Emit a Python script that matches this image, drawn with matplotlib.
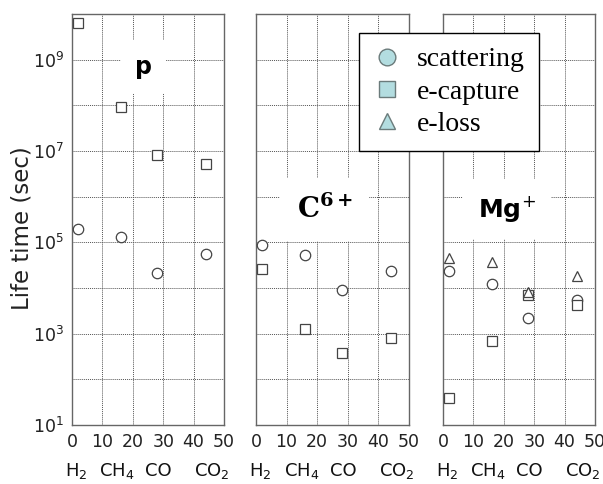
"""Life time of p, C6+ and Mg+ ions in H2, CH4, CO and CO2 gas."""

import matplotlib
matplotlib.use("Agg")
import matplotlib.pyplot as plt
from matplotlib.lines import Line2D
from matplotlib.transforms import blended_transform_factory

# gas mass number (x position of each point) and gas names
gas_mass = [2, 16, 28, 44]
gas_names = ["H$_2$", "CH$_4$", "CO", "CO$_2$"]
gas_label_x = [1.5, 14.8, 28.5, 46.0]

# life times (sec)
p_scatter = [2.0e5, 1.3e5, 2.1e4, 5.6e4]
p_capture = [6.2e9, 9.0e7, 8.3e6, 5.3e6]
c_scatter = [8.9e4, 5.4e4, 9.1e3, 2.4e4]
c_capture = [2.6e4, 1.26e3, 3.8e2, 8.1e2]
mg_scatter = [2.4e4, 1.2e4, 2.2e3, 5.5e3]
mg_capture = [39, 690, 7.1e3, 4.3e3]
mg_loss = [4.6e4, 3.7e4, 8.3e3, 1.8e4]

x_ticks = [0, 10, 20, 30, 40, 50]
y_exponents = list(range(1, 11))
legend_labels = ["scattering", "e-capture", "e-loss"]

W, H = 603, 484
fig = plt.figure(figsize=(W / 100, H / 100), dpi=100)

boxes = [(72, 224), (256, 409), (443, 595)]
top, bottom = 14, 425
axes = []
for x0, x1 in boxes:
    ax = fig.add_axes([x0 / W, 1 - bottom / H, (x1 - x0) / W, (bottom - top) / H])
    axes.append(ax)

panels = [
    ("p", [(p_scatter, "o"), (p_capture, "s")]),
    (r"$\mathbf{C^{6+}}$", [(c_scatter, "o"), (c_capture, "s")]),
    ("Mg$^{+}$", [(mg_scatter, "o"), (mg_capture, "s"), (mg_loss, "^")]),
]
label_pos = [(23.5, 10**8.85), (22.5, 10**5.72), (21.0, 10**5.72)]
label_fonts = [
    dict(family="DejaVu Sans", fontweight="bold", fontsize=17),
    dict(family="DejaVu Serif", fontweight="bold", fontsize=20, math_fontfamily="dejavuserif"),
    dict(family="DejaVu Sans", fontweight="bold", fontsize=18),
]

for i, (ax, (name, series)) in enumerate(zip(axes, panels)):
    ax.set_yscale("log")
    ax.set_xlim(0, 50)
    ax.set_ylim(10**1, 10**10)
    for values, marker in series:
        ax.plot(gas_mass, values, linestyle="none", marker=marker, markersize=7.5,
                markerfacecolor="white", markeredgecolor="#444444", markeredgewidth=0.9,
                zorder=3)
    ax.set_xticks(x_ticks)
    ax.set_xticklabels([str(t) for t in x_ticks])
    ax.set_yticks([10**k for k in y_exponents])
    ax.minorticks_off()
    if i == 0:
        ax.set_yticklabels([f"$10^{{{k}}}$" if k % 2 == 1 else "" for k in y_exponents])
    else:
        ax.set_yticklabels([])
    ax.tick_params(length=0, labelsize=12.5, colors="#222222", pad=6)
    ax.grid(True, color="#555555", linestyle=(0, (1, 1)), linewidth=0.7)
    for s in ax.spines.values():
        s.set_color("#666666")
        s.set_linewidth(1.0)

    lx, ly = label_pos[i]
    ax.text(lx, ly, name, ha="center", va="center", zorder=4,
            bbox=dict(boxstyle="square,pad=0.6", fc="white", ec="none"),
            **label_fonts[i])

    trans = blended_transform_factory(ax.transData, fig.transFigure)
    for gx, gname in zip(gas_label_x, gas_names):
        ax.text(gx, 8 / H, gname, transform=trans, ha="center", va="baseline",
                fontsize=13, color="#111111")

fig.text(22 / W, 1 - 228 / H, "Life time (sec)", rotation=90, ha="center",
         va="center", fontsize=16.5, color="#222222")

handles = [
    Line2D([], [], linestyle="none", marker=m, markersize=12,
           markerfacecolor="#b3dde0", markeredgecolor="#6b7b7b", markeredgewidth=1.0)
    for m in ["o", "s", "^"]
]
leg = fig.legend(handles, legend_labels, loc="upper left",
                 bbox_to_anchor=(359 / W, 1 - 33 / H), borderaxespad=0,
                 prop=dict(family="Liberation Serif", size=20),
                 frameon=True, fancybox=False, edgecolor="black", framealpha=1,
                 labelspacing=0.25, handlelength=1.0, handletextpad=0.6,
                 borderpad=0.5)
leg.get_frame().set_linewidth(1.0)
leg.set_zorder(10)

fig.savefig("out.png", dpi=100)
